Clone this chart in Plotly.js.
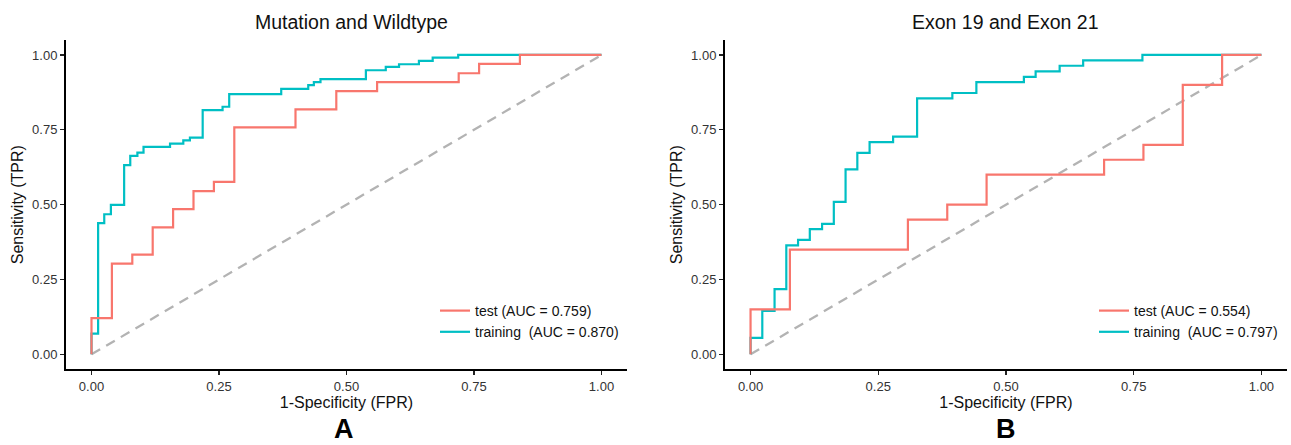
<!DOCTYPE html>
<html>
<head>
<meta charset="utf-8">
<script src="https://cdn.plot.ly/plotly-3.0.1.min.js"></script>
<style>html,body{margin:0;padding:0;background:#fff;}#chart{width:1291px;height:445px;}</style>
</head>
<body>
<div id="chart"></div>
<script>
// Panel A: Mutation and Wildtype
const panelTitles = ["Mutation and Wildtype", "Exon 19 and Exon 21"];
const panelLabels = ["A", "B"];
const tickVals = [0, 0.25, 0.5, 0.75, 1];
const tickText = ["0.00", "0.25", "0.50", "0.75", "1.00"];

const aTestFPR = [0, 0, 0.04, 0.08, 0.12, 0.16, 0.20, 0.24, 0.28, 0.40, 0.48, 0.56, 0.72, 0.76, 0.84, 1];
const aTestTPR = [0, 0.121, 0.303, 0.333, 0.424, 0.485, 0.545, 0.576, 0.758, 0.818, 0.879, 0.909, 0.939, 0.970, 1.0, 1.0];
const aTrainFPR = [0, 0, 0.013, 0.025, 0.038, 0.064, 0.076, 0.090, 0.102, 0.154, 0.180, 0.193, 0.218, 0.257, 0.270, 0.372, 0.425, 0.436, 0.449, 0.538, 0.577, 0.603, 0.642, 0.669, 0.719, 1];
const aTrainTPR = [0, 0.069, 0.438, 0.468, 0.499, 0.632, 0.663, 0.674, 0.693, 0.704, 0.715, 0.724, 0.816, 0.827, 0.869, 0.887, 0.899, 0.909, 0.919, 0.949, 0.960, 0.969, 0.980, 0.991, 1.0, 1.0];
const aTestName = "test (AUC = 0.759)";
const aTrainName = "training  (AUC = 0.870)";

// Panel B: Exon 19 and Exon 21
const bTestFPR = [0, 0, 0.077, 0.308, 0.385, 0.462, 0.692, 0.769, 0.846, 0.923, 1];
const bTestTPR = [0, 0.15, 0.35, 0.45, 0.50, 0.60, 0.65, 0.70, 0.90, 1.0, 1.0];
const bTrainFPR = [0, 0, 0.023, 0.047, 0.070, 0.093, 0.116, 0.140, 0.163, 0.186, 0.209, 0.233, 0.279, 0.326, 0.395, 0.442, 0.535, 0.558, 0.605, 0.651, 0.767, 1];
const bTrainTPR = [0, 0.055, 0.145, 0.218, 0.364, 0.382, 0.418, 0.436, 0.509, 0.618, 0.673, 0.709, 0.727, 0.855, 0.873, 0.909, 0.927, 0.945, 0.964, 0.982, 1.0, 1.0];
const bTestName = "test (AUC = 0.554)";
const bTrainName = "training  (AUC = 0.797)";

const diagX = [0, 1];
const diagY = [0, 1];

const RED = "#F8766D", TEAL = "#00BFC4", GREY = "#B3B3B3";
const FONT = "Liberation Sans, Arial, Helvetica, sans-serif";
const W = 1291, H = 445;

function diag(xa, ya) {
  return {x: diagX, y: diagY, xaxis: xa, yaxis: ya, mode: "lines", type: "scatter",
    line: {color: GREY, width: 2.3, dash: "10px,7px"}, showlegend: false, hoverinfo: "skip"};
}
function curve(x, y, name, color, xa, ya, lg) {
  return {x: x, y: y, name: name, xaxis: xa, yaxis: ya, mode: "lines", type: "scatter",
    line: {color: color, width: 2.2, shape: "hv"}, legend: lg, legendgroup: name};
}

const data = [
  diag("x", "y"),
  curve(aTrainFPR, aTrainTPR, aTrainName, TEAL, "x", "y", "legend"),
  curve(aTestFPR, aTestTPR, aTestName, RED, "x", "y", "legend"),
  diag("x2", "y2"),
  curve(bTrainFPR, bTrainTPR, bTrainName, TEAL, "x2", "y2", "legend2"),
  curve(bTestFPR, bTestTPR, bTestName, RED, "x2", "y2", "legend2")
];

function xax(dom, anchor) {
  return {domain: dom, anchor: anchor, range: [-0.05, 1.05], tickvals: tickVals, ticktext: tickText,
    showline: true, linecolor: "#000", linewidth: 2, ticks: "outside", ticklen: 4, tickwidth: 1.3, tickcolor: "#222",
    showgrid: false, zeroline: false, tickfont: {family: FONT, size: 13, color: "#333"},
    title: {text: "1-Specificity (FPR)", font: {family: FONT, size: 16, color: "#111"}, standoff: 1},
    automargin: false, fixedrange: true};
}
function yax(dom, anchor) {
  return {domain: dom, anchor: anchor, range: [-0.05, 1.05], tickvals: tickVals, ticktext: tickText,
    showline: true, linecolor: "#000", linewidth: 2, ticks: "outside", ticklen: 4, tickwidth: 1.3, tickcolor: "#222",
    showgrid: false, zeroline: false, tickfont: {family: FONT, size: 13, color: "#333"},
    title: {text: "Sensitivity (TPR)", font: {family: FONT, size: 16, color: "#111"}, standoff: 4},
    automargin: false, fixedrange: true};
}
const yDom = [(H - 369.3) / H, (H - 40) / H];

function legendAt(px, py) {
  return {x: px / W, y: (H - py) / H, xanchor: "left", yanchor: "top", traceorder: "reversed",
    font: {family: FONT, size: 14, color: "#111"}, bgcolor: "rgba(0,0,0,0)", borderwidth: 0,
    tracegroupgap: 4, itemwidth: 30};
}

const layout = {
  width: W, height: H,
  margin: {l: 0, r: 0, t: 0, b: 0},
  paper_bgcolor: "#fff", plot_bgcolor: "#fff",
  font: {family: FONT},
  xaxis: xax([66 / W, 627 / W], "y"),
  yaxis: yax(yDom, "x"),
  xaxis2: xax([725 / W, 1287 / W], "y2"),
  yaxis2: yax(yDom, "x2"),
  legend: legendAt(435, 295),
  legend2: legendAt(1094, 295),
  annotations: [
    {text: panelTitles[0], xref: "paper", yref: "paper", x: 351.5 / W, y: (H - 22) / H, xanchor: "center", yanchor: "middle",
      showarrow: false, font: {family: FONT, size: 19.5, color: "#111"}},
    {text: panelTitles[1], xref: "paper", yref: "paper", x: 1005.3 / W, y: (H - 22) / H, xanchor: "center", yanchor: "middle",
      showarrow: false, font: {family: FONT, size: 19.5, color: "#111"}},
    {text: "<b>" + panelLabels[0] + "</b>", xref: "paper", yref: "paper", x: 344 / W, y: 0, xanchor: "center", yanchor: "bottom",
      showarrow: false, borderpad: 0, font: {family: FONT, size: 27, color: "#000"}},
    {text: "<b>" + panelLabels[1] + "</b>", xref: "paper", yref: "paper", x: 1005.5 / W, y: 0, xanchor: "center", yanchor: "bottom",
      showarrow: false, borderpad: 0, font: {family: FONT, size: 27, color: "#000"}}
  ],
  showlegend: true
};

Plotly.newPlot("chart", data, layout, {displayModeBar: false, staticPlot: true});
</script>
</body>
</html>
